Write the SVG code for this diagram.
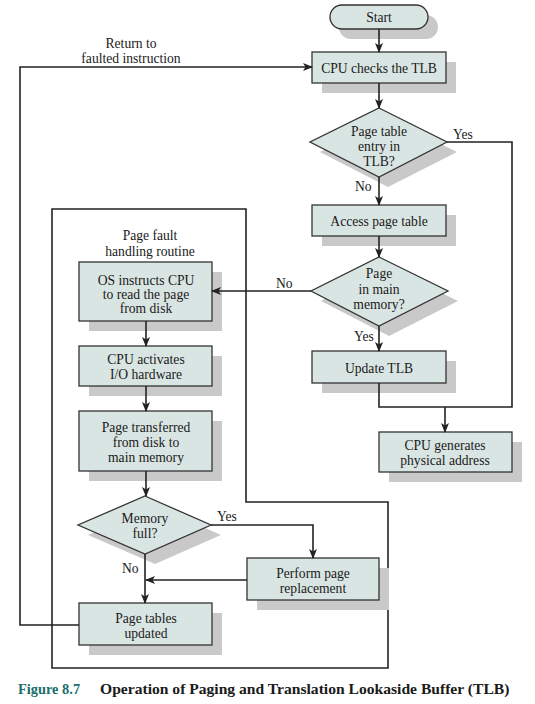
<svg xmlns="http://www.w3.org/2000/svg" width="535" height="704" viewBox="0 0 535 704">
<style>
.box{fill:#d9e5e2;stroke:#333;stroke-width:1.3}
.sh{fill:#c9c9c9;stroke:none}
.t{font-family:"Liberation Serif","Times New Roman",serif;font-size:13.6px;fill:#1a1a1a;text-anchor:middle}
.l{font-family:"Liberation Serif","Times New Roman",serif;font-size:13.6px;fill:#1a1a1a}
.c{fill:none;stroke:#222;stroke-width:1.6}
.frame{fill:none;stroke:#222;stroke-width:1.6}
.cap{font-family:"Liberation Serif","Times New Roman",serif;font-size:15.6px;font-weight:bold}
</style>
<defs>
<marker id="ah" viewBox="0 0 10 8" refX="9" refY="4" markerWidth="10" markerHeight="8" markerUnits="userSpaceOnUse" orient="auto">
<path d="M0,0 L10,4 L0,8 L2.5,4 z" fill="#222"/>
</marker>
</defs>
<rect width="535" height="704" fill="#fff"/>

<g id="frame"><path class="frame" d="M52,209 H246 V502 H388 V668 H52 Z"/>
<text class="t" x="150" y="240">Page fault</text>
<text class="t" x="150" y="256">handling routine</text>
</g>

<g id="start"><rect class="sh" x="339" y="15" width="99" height="24" rx="12"/><rect class="box" x="330" y="5" width="98" height="24" rx="12"/><text class="t" x="379" y="22">Start</text></g>
<g id="cpu-checks"><rect class="sh" x="322" y="62" width="134" height="31"/><rect class="box" x="312" y="52" width="134" height="31"/><text class="t" x="379" y="73">CPU checks the TLB</text></g>
<g id="in-tlb"><polygon class="sh" points="388,118 457,152 388,187 320,152"/><polygon class="box" points="379,108 447,142 379,177 310,142"/><text class="t" x="379" y="136">Page table</text><text class="t" x="379" y="151">entry in</text><text class="t" x="379" y="166">TLB?</text></g>
<g id="access"><rect class="sh" x="322" y="215" width="134" height="31"/><rect class="box" x="312" y="205" width="134" height="31"/><text class="t" x="379" y="226">Access page table</text></g>
<g id="in-mem"><polygon class="sh" points="389,267 458,301 389,336 321,301"/><polygon class="box" points="379,257 448,291 379,326 311,291"/><text class="t" x="379" y="278">Page</text><text class="t" x="379" y="294">in main</text><text class="t" x="379" y="309">memory?</text></g>
<g id="update-tlb"><rect class="sh" x="322" y="361" width="134" height="32"/><rect class="box" x="312" y="351" width="134" height="32"/><text class="t" x="379" y="373">Update TLB</text></g>
<g id="gen-addr"><rect class="sh" x="389" y="442" width="133" height="40"/><rect class="box" x="379" y="432" width="133" height="40"/><text class="t" x="445" y="450">CPU generates</text><text class="t" x="445" y="465">physical address</text></g>

<g id="os-read"><rect class="sh" x="89" y="272" width="133" height="59"/><rect class="box" x="79" y="262" width="133" height="59"/><text class="t" x="146" y="285">OS instructs CPU</text><text class="t" x="146" y="299">to read the page</text><text class="t" x="146" y="313">from disk</text></g>
<g id="io"><rect class="sh" x="89" y="356" width="133" height="40"/><rect class="box" x="79" y="346" width="133" height="40"/><text class="t" x="146" y="364">CPU activates</text><text class="t" x="146" y="379">I/O hardware</text></g>
<g id="transfer"><rect class="sh" x="89" y="421" width="133" height="60"/><rect class="box" x="79" y="411" width="133" height="60"/><text class="t" x="146" y="432">Page transferred</text><text class="t" x="146" y="447">from disk to</text><text class="t" x="146" y="462">main memory</text></g>
<g id="mem-full"><polygon class="sh" points="155,506 221,535 155,564 88,535"/><polygon class="box" points="145,496 211,525 145,554 78,525"/><text class="t" x="145" y="523">Memory</text><text class="t" x="145" y="538">full?</text></g>
<g id="replace"><rect class="sh" x="257" y="568" width="132" height="42"/><rect class="box" x="247" y="558" width="132" height="42"/><text class="t" x="313" y="578">Perform page</text><text class="t" x="313" y="593">replacement</text></g>
<g id="pt-updated"><rect class="sh" x="89" y="613" width="133" height="42"/><rect class="box" x="79" y="603" width="133" height="42"/><text class="t" x="146" y="623">Page tables</text><text class="t" x="146" y="638">updated</text></g>

<g id="connectors">
<path class="c" d="M379,29 V52" marker-end="url(#ah)"/>
<path class="c" d="M379,83 V108" marker-end="url(#ah)"/>
<path class="c" d="M379,177 V205" marker-end="url(#ah)"/>
<path class="c" d="M379,236 V257" marker-end="url(#ah)"/>
<path class="c" d="M379,326 V351" marker-end="url(#ah)"/>
<path class="c" d="M447,142 H512 V407 H379 V383"/>
<path class="c" d="M445,407 V432" marker-end="url(#ah)"/>
<path class="c" d="M311,291 H212" marker-end="url(#ah)"/>
<path class="c" d="M146,321 V346" marker-end="url(#ah)"/>
<path class="c" d="M146,386 V411" marker-end="url(#ah)"/>
<path class="c" d="M146,471 V496" marker-end="url(#ah)"/>
<path class="c" d="M211,525 H313 V558" marker-end="url(#ah)"/>
<path class="c" d="M145,554 V603" marker-end="url(#ah)"/>
<path class="c" d="M247,580 H146" marker-end="url(#ah)"/>
<path class="c" d="M79,625 H20 V67 H312" marker-end="url(#ah)"/>
<text class="l" x="453" y="139">Yes</text>
<text class="l" x="355" y="191">No</text>
<text class="l" x="276" y="288">No</text>
<text class="l" x="354" y="341">Yes</text>
<text class="l" x="217" y="521">Yes</text>
<text class="l" x="122" y="573">No</text>
<text class="t" x="131" y="48">Return to</text>
<text class="t" x="131" y="63">faulted instruction</text>
</g>

<g id="caption">
<text class="cap" x="18" y="694" fill="#1b6f6c" style="font-size:14.4px">Figure 8.7</text>
<text class="cap" x="100" y="694" fill="#1a1a1a">Operation of Paging and Translation Lookaside Buffer (TLB)</text>
</g>
</svg>
